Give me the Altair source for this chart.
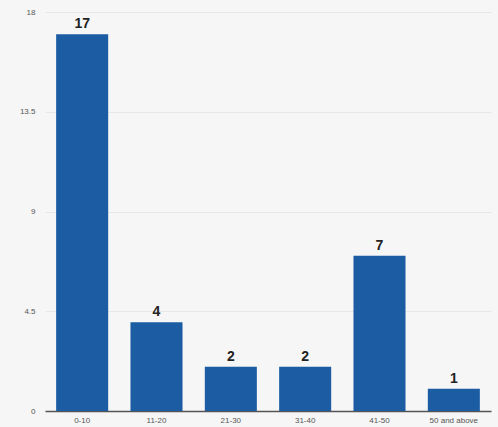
import altair as alt
import pandas as pd

categories = ["0-10", "11-20", "21-30", "31-40", "41-50", "50 and above"]
counts = [17, 4, 2, 2, 7, 1]
y_ticks = [0, 4.5, 9, 13.5, 18]

df = pd.DataFrame({"range": categories, "count": counts})

base = alt.Chart(df).encode(
    x=alt.X("range:N", sort=categories, title=None,
            scale=alt.Scale(paddingInner=0.3, paddingOuter=0.15),
            axis=alt.Axis(labelAngle=0, labelFontSize=8, labelColor="#555555",
                          labelFont="Liberation Sans", ticks=False, labelPadding=5,
                          domainColor="#555555", domainWidth=1.5)),
    y=alt.Y("count:Q", title=None,
            scale=alt.Scale(domain=[0, 18], nice=False),
            axis=alt.Axis(values=y_ticks, format=".1~f", labelFontSize=8, labelColor="#555555",
                          labelFont="Liberation Sans", ticks=False, domain=False,
                          labelPadding=10, gridColor="#e8e8e8", gridWidth=1)),
)

bars = base.mark_bar(color="#1b5ca3")
labels = base.mark_text(baseline="bottom", dy=-3, fontSize=14, fontWeight="bold",
                        color="#222222", font="Liberation Sans").encode(text="count:Q")

chart = (bars + labels).properties(
    width=446, height=399,
    autosize=alt.AutoSizeParams(type="none"),
    padding={"left": 45, "top": 12, "right": 7, "bottom": 16},
    background="#f6f6f6",
).configure_view(stroke=None)

chart.save("out.html", embed_options={"renderer": "svg", "actions": False})
